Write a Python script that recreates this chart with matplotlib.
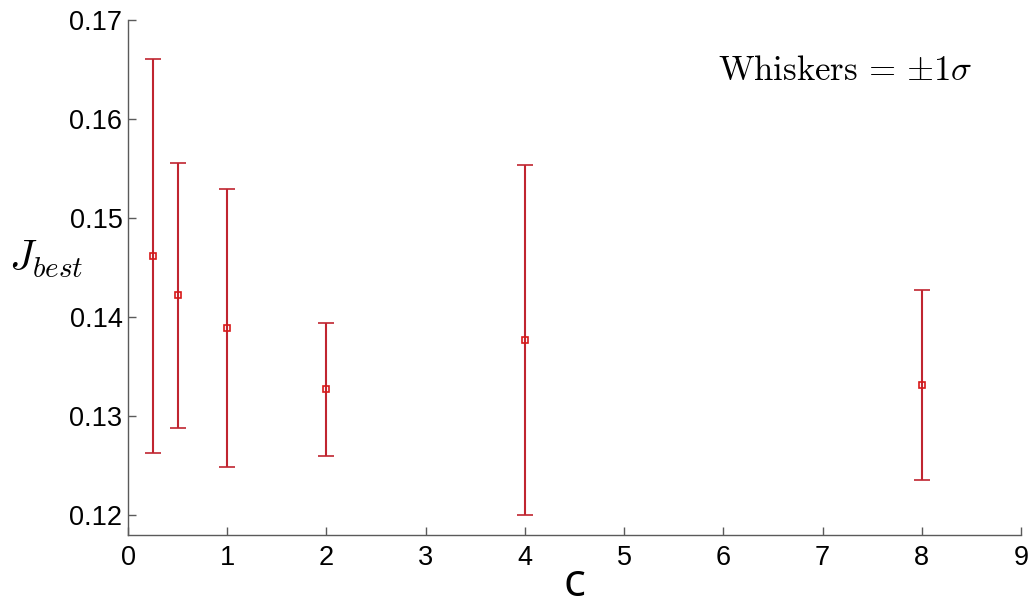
import numpy as np
import matplotlib
matplotlib.use('Agg')
import matplotlib.pyplot as plt

# mean J and standard deviation for each value of c
c_vals = [0.25, 0.5, 1, 2, 4, 8]
j_mean = [0.1462, 0.1422, 0.1389, 0.1327, 0.1377, 0.1331]
j_std = [0.0199, 0.0134, 0.0140, 0.0067, 0.0177, 0.0096]

plt.rcParams['mathtext.fontset'] = 'cm'
plt.rcParams['font.family'] = 'Liberation Sans'

fig = plt.figure(figsize=(10.35, 5.98), dpi=100)
ax = fig.add_axes([0.1237, 0.1054, 0.8628, 0.8612])

ax.errorbar(c_vals, j_mean, yerr=j_std, fmt='s', color='#c02530', ecolor='#c02530',
            mfc='none', mec='#d81818', ms=5, mew=1.2, elinewidth=1.5,
            capsize=5.5, capthick=1.5)

ax.set_xlim(0, 9)
ax.set_ylim(0.118, 0.17)
ax.set_xticks(np.arange(0, 10, 1))
ax.set_yticks([0.12, 0.13, 0.14, 0.15, 0.16, 0.17])
ax.set_yticklabels(['0.12', '0.13', '0.14', '0.15', '0.16', '0.17'])

for side in ['top', 'right']:
    ax.spines[side].set_visible(False)
for side in ['left', 'bottom']:
    ax.spines[side].set_color('#5a5a5a')
    ax.spines[side].set_linewidth(1.0)

ax.tick_params(direction='in', length=6, width=1, colors='#5a5a5a',
               labelcolor='black', labelsize=19.5)
ax.tick_params(axis='x', pad=7)
ax.tick_params(axis='y', pad=4)

# x label sits right at the bottom edge of the figure
ax.set_xlabel('c', fontsize=33, family='Open Sans')
ax.xaxis.set_label_coords(0.5, -0.095)
ax.xaxis.label.set_va('center')
ax.set_ylabel(r'$J_{best}$', fontsize=30, rotation=0, va='center', ha='center')
ax.yaxis.set_label_coords(-0.092, 0.535)

ax.text(0.946, 0.8835, r'$\mathrm{Whiskers}\,=\,{\pm}1\sigma$', transform=ax.transAxes,
        ha='right', va='baseline', fontsize=25)

fig.savefig('out.png', dpi=100)
